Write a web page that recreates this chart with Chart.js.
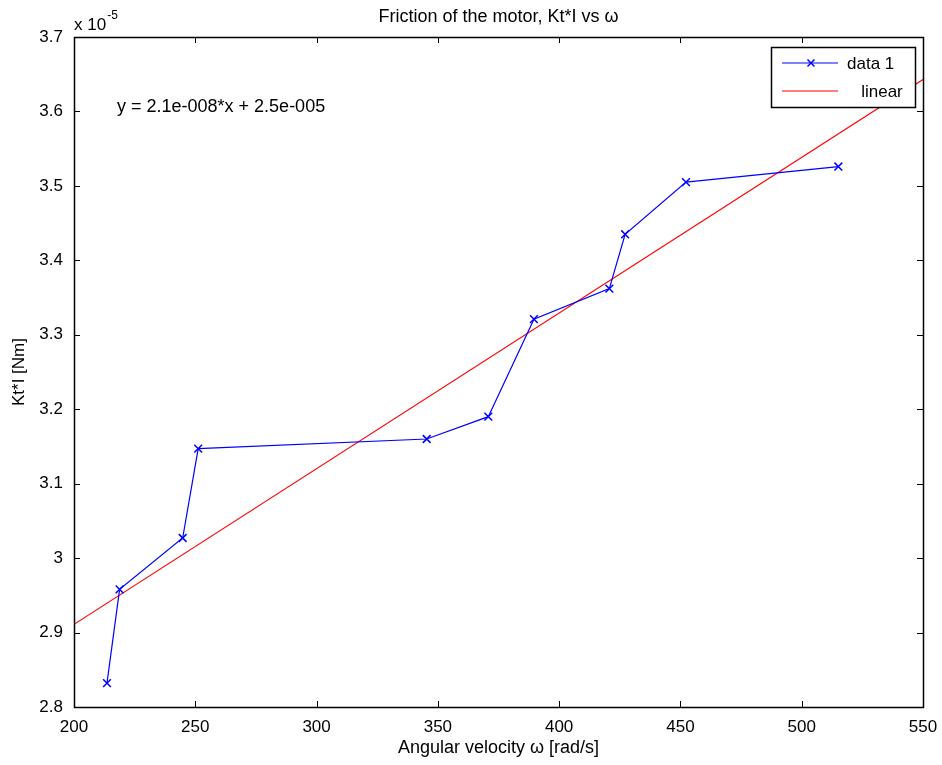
<!DOCTYPE html>
<html>
<head>
<meta charset="utf-8">
<script src="https://cdn.jsdelivr.net/npm/chart.js@4.4.0/dist/chart.umd.min.js"></script>
<style>
  html, body { margin: 0; padding: 0; background: #fff; }
  #wrap { width: 942px; height: 765px; }
</style>
</head>
<body>
<div id="wrap"><canvas id="friction-chart" width="942" height="765"></canvas></div>
<script>
// Measured points, Kt*I in units of 1e-5 Nm
const omega = [213.6, 218.8, 244.8, 251.2, 345.4, 370.8, 389.6, 420.7, 427.2, 452.3, 515.1];
const ktI = [2.832, 2.958, 3.027, 3.147, 3.160, 3.190, 3.321, 3.362, 3.435, 3.505, 3.526];

// Linear fit line, read at the axis ends
const fitOmega = [200, 550];
const fitKtI = [2.911, 3.643];

const xRange = [200, 550];
const yRange = [2.8, 3.7];
const xStep = 50;
const yStep = 0.1;

const seriesLabels = ['data 1', '   linear'];
const titleText = 'Friction of the motor, Kt*I vs \u03c9';
const xTitle = 'Angular velocity \u03c9 [rad/s]';
const yTitle = 'Kt*I [Nm]';
const fitText = 'y = 2.1e-008*x + 2.5e-005';

const FONT = "'Liberation Sans', Arial, sans-serif";
const FS = 17;

// MATLAB-style box, inward ticks, title, exponent, equation and legend
const matlabAxes = {
  id: 'matlabAxes',
  afterDraw(chart) {
    const { ctx, chartArea: a, scales: { x, y } } = chart;
    ctx.save();
    ctx.strokeStyle = '#000';
    ctx.lineWidth = 1;
    ctx.beginPath();
    x.ticks.forEach(t => {
      const px = Math.round(x.getPixelForValue(t.value)) + 0.5;
      ctx.moveTo(px, a.bottom); ctx.lineTo(px, a.bottom - 6);
      ctx.moveTo(px, a.top); ctx.lineTo(px, a.top + 6);
    });
    y.ticks.forEach(t => {
      const py = Math.round(y.getPixelForValue(t.value)) + 0.5;
      ctx.moveTo(a.left, py); ctx.lineTo(a.left + 6, py);
      ctx.moveTo(a.right, py); ctx.lineTo(a.right - 6, py);
    });
    ctx.stroke();
    ctx.lineWidth = 1.5;
    ctx.strokeRect(Math.round(a.left) + 0.5, Math.round(a.top) + 0.5,
      Math.round(a.width), Math.round(a.height));

    ctx.fillStyle = '#000';
    ctx.textBaseline = 'middle';

    // title
    ctx.font = '18px ' + FONT;
    ctx.textAlign = 'center';
    ctx.fillText(titleText, (a.left + a.right) / 2, 17);

    // exponent
    ctx.font = FS + 'px ' + FONT;
    ctx.textAlign = 'left';
    ctx.textBaseline = 'alphabetic';
    ctx.fillText('x 10', a.left, 30);
    const w = ctx.measureText('x 10').width;
    ctx.font = '12px ' + FONT;
    ctx.fillText('-5', a.left + w + 1, 19);

    // fit equation
    ctx.font = '18px ' + FONT;
    ctx.textBaseline = 'middle';
    ctx.fillText(fitText, 117, 107);

    // legend
    const bx = 771, by = 47, bw = 144, bh = 60;
    ctx.fillStyle = '#fff';
    ctx.fillRect(bx, by, bw, bh);
    ctx.lineWidth = 1.5;
    ctx.strokeStyle = '#000';
    ctx.strokeRect(bx + 0.5, by + 0.5, bw, bh);
    chart.data.datasets.forEach((ds, i) => {
      const ly = by + 16 + i * 28;
      ctx.strokeStyle = ds.borderColor;
      ctx.lineWidth = 1;
      ctx.beginPath();
      ctx.moveTo(bx + 11, ly); ctx.lineTo(bx + 67, ly);
      ctx.stroke();
      if (ds.pointStyle === 'crossRot') {
        const mx = bx + 40, r = 3.5;
        ctx.lineWidth = 1.5;
        ctx.beginPath();
        ctx.moveTo(mx - r, ly - r); ctx.lineTo(mx + r, ly + r);
        ctx.moveTo(mx - r, ly + r); ctx.lineTo(mx + r, ly - r);
        ctx.stroke();
      }
      ctx.fillStyle = '#000';
      ctx.font = FS + 'px ' + FONT;
      ctx.textAlign = 'left';
      ctx.fillText(ds.label, bx + 76, ly + 1);
    });
    ctx.restore();
  }
};

new Chart(document.getElementById('friction-chart'), {
  type: 'scatter',
  data: {
    datasets: [
      {
        label: seriesLabels[0],
        data: omega.map((v, i) => ({ x: v, y: ktI[i] })),
        showLine: true,
        borderColor: '#0000ff',
        backgroundColor: '#0000ff',
        borderWidth: 1.2,
        pointStyle: 'crossRot',
        pointRadius: 5.5,
        pointBorderWidth: 1.5,
        pointBorderColor: '#0000ff'
      },
      {
        label: seriesLabels[1],
        data: fitOmega.map((v, i) => ({ x: v, y: fitKtI[i] })),
        showLine: true,
        borderColor: '#ff0000',
        backgroundColor: '#ff0000',
        borderWidth: 1.2,
        pointRadius: 0
      }
    ]
  },
  options: {
    responsive: false,
    animation: false,
    layout: { padding: { top: 37, right: 19, left: 0, bottom: 0 } },
    plugins: {
      legend: { display: false },
      title: { display: false },
      tooltip: { enabled: false }
    },
    scales: {
      x: {
        type: 'linear',
        min: xRange[0],
        max: xRange[1],
        grid: { display: false },
        border: { display: false },
        ticks: {
          stepSize: xStep,
          color: '#000',
          padding: 2,
          maxRotation: 0,
          font: { family: FONT, size: FS }
        },
        title: {
          display: true,
          text: xTitle,
          color: '#000',
          font: { family: FONT, size: 18 },
          padding: { bottom: 6 }
        },
        afterFit: s => { s.height = 58; }
      },
      y: {
        type: 'linear',
        min: yRange[0],
        max: yRange[1],
        grid: { display: false },
        border: { display: false },
        ticks: {
          stepSize: yStep,
          color: '#000',
          padding: 3,
          font: { family: FONT, size: FS },
          callback: v => String(Number(v.toFixed(1)))
        },
        title: {
          display: true,
          text: yTitle,
          color: '#000',
          font: { family: FONT, size: FS },
          padding: { top: 9 }
        },
        afterFit: s => { s.width = 74; }
      }
    }
  },
  plugins: [matlabAxes]
});
</script>
</body>
</html>
